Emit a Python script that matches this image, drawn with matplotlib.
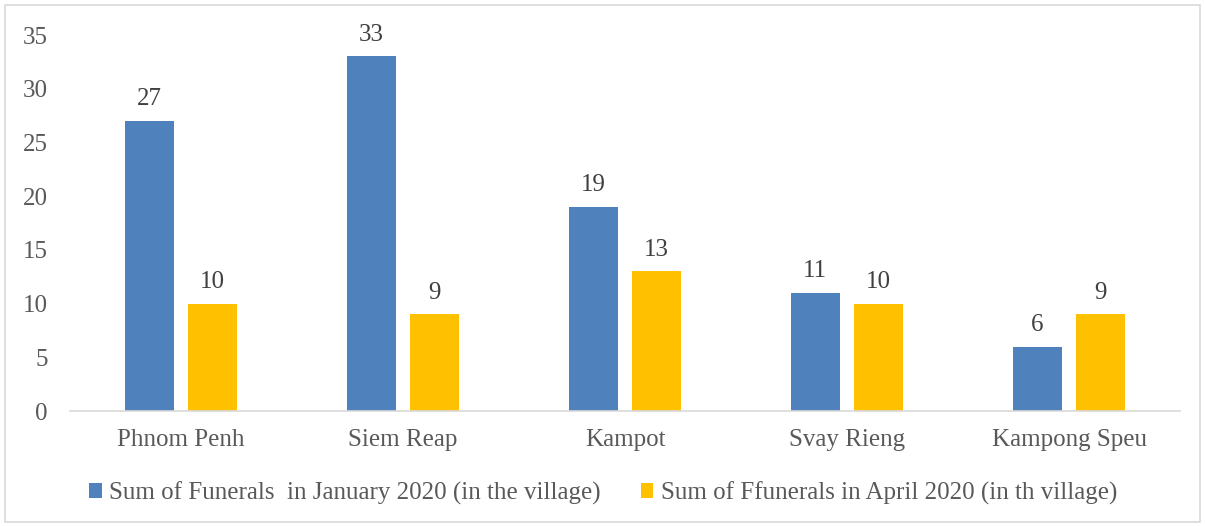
import matplotlib.pyplot as plt
import numpy as np
from matplotlib.patches import Rectangle

# data
provinces = ["Phnom Penh", "Siem Reap", "Kampot", "Svay Rieng", "Kampong Speu"]
jan_2020 = [27, 33, 19, 11, 6]
apr_2020 = [10, 9, 13, 10, 9]
series_names = ["Sum of Funerals  in January 2020 (in the village)",
                "Sum of Ffunerals in April 2020 (in th village)"]
yticks = [0, 5, 10, 15, 20, 25, 30, 35]

plt.rcParams['font.family'] = ['Liberation Serif', 'DejaVu Serif']
txt = '#595959'
fs = 18

W, H = 1205, 526
fig = plt.figure(figsize=(W / 100, H / 100), dpi=100)
ax = fig.add_axes([70 / W, (H - 411) / H, (1180 - 70) / W, (411 - 35) / H])

x = np.arange(len(provinces))
bw = 0.22
off = 0.143
b1 = ax.bar(x - off, jan_2020, bw, color='#4F81BD', label=series_names[0])
b2 = ax.bar(x + off, apr_2020, bw, color='#FFC000', label=series_names[1])

for bars in (b1, b2):
    for r in bars:
        ax.text(r.get_x() + r.get_width() / 2, r.get_height() + 1.0,
                str(int(r.get_height())), ha='center', va='bottom',
                fontsize=fs, color='#404040')

ax.set_xlim(-0.5, len(provinces) - 0.5)
ax.set_ylim(0, 35)
ax.set_yticks(yticks)
ax.set_xticks(x)
ax.set_xticklabels(provinces)
ax.tick_params(axis='both', length=0, labelsize=fs, labelcolor=txt)
ax.tick_params(axis='y', pad=16)
ax.tick_params(axis='x', pad=13)
for s in ['top', 'right', 'left']:
    ax.spines[s].set_visible(False)
ax.spines['bottom'].set_color('#D9D9D9')
ax.spines['bottom'].set_linewidth(1.2)

leg = fig.legend(handles=[b1, b2], loc='center', bbox_to_anchor=(603 / W, (H - 493) / H),
                 ncol=2, frameon=False, fontsize=fs, handlelength=0.5, handleheight=0.5,
                 handletextpad=0.3, columnspacing=1.6)
for t in leg.get_texts():
    t.set_color(txt)

fig.patches.append(Rectangle((5 / W, 4 / H), 1195 / W, 517 / H, transform=fig.transFigure,
                             fill=False, edgecolor='#D9D9D9', linewidth=1.2))

fig.savefig('out.png', dpi=100)
